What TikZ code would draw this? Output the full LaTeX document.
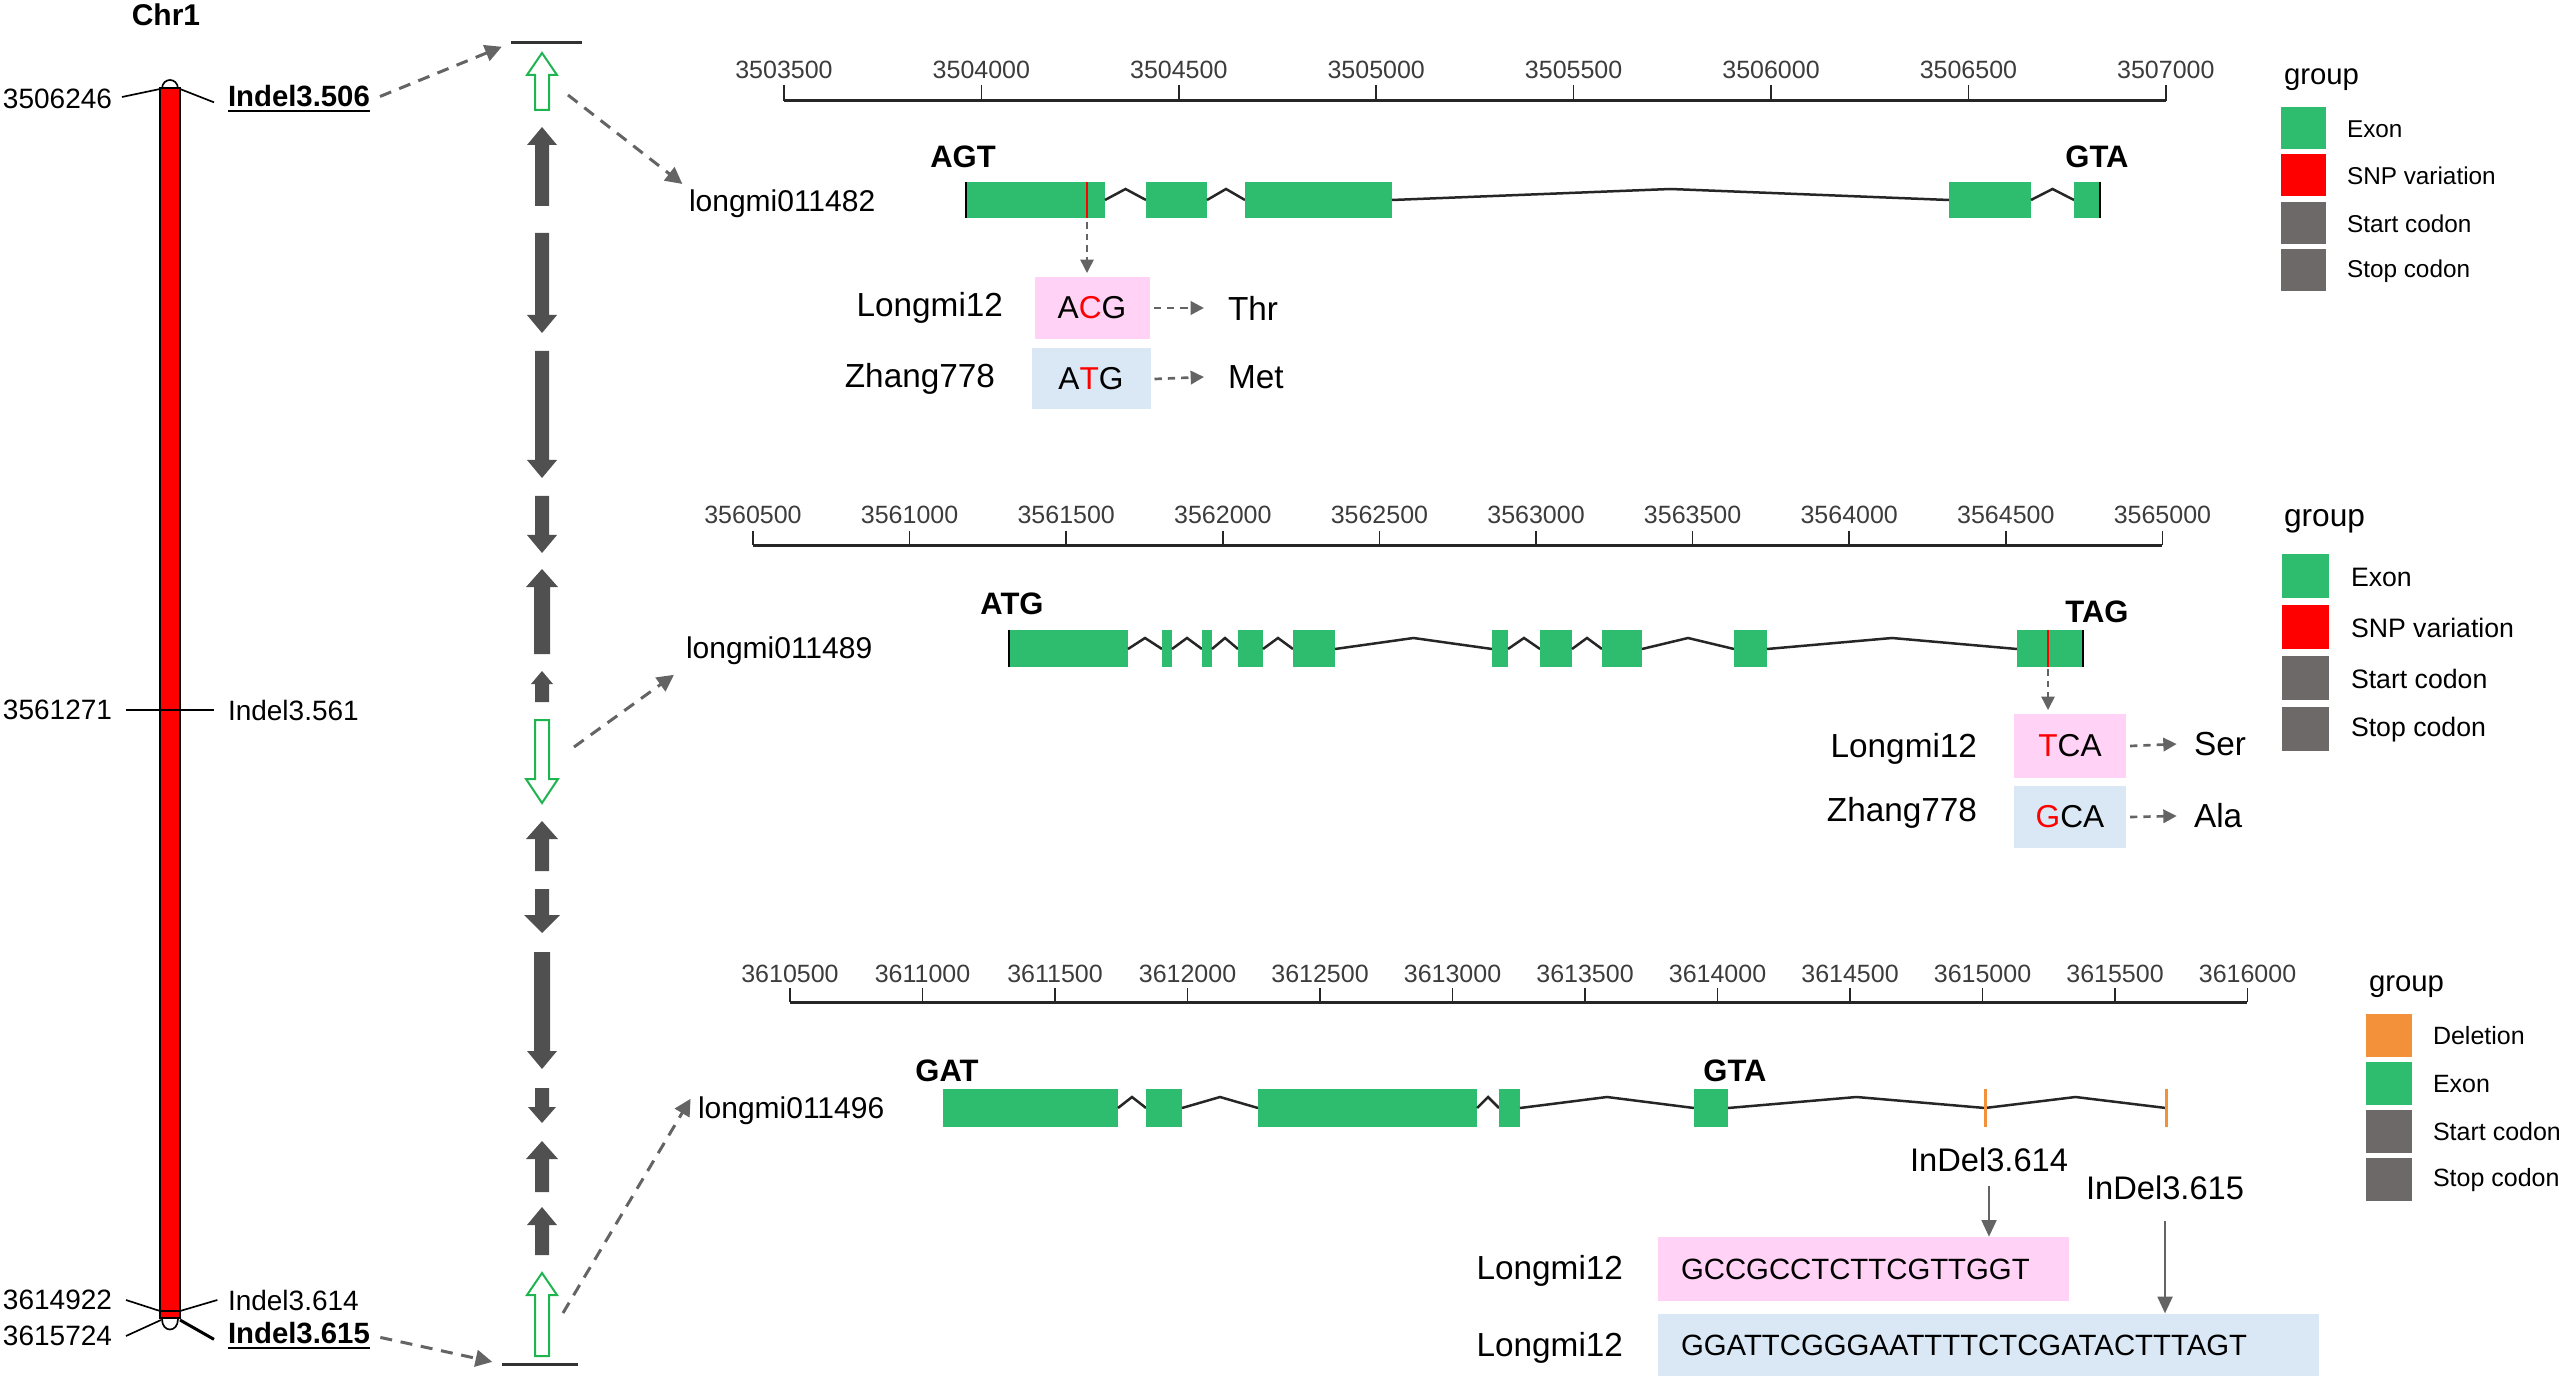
\documentclass[tikz,border=0pt]{standalone}
\usepackage{fontspec}
\setmainfont{Liberation Sans}
\usetikzlibrary{arrows.meta}
\definecolor{exonc}{RGB}{46,189,110}
\definecolor{snpc}{RGB}{255,0,0}
\definecolor{codonc}{RGB}{110,105,105}
\definecolor{delc}{RGB}{243,145,58}
\definecolor{pinkc}{RGB}{255,210,246}
\definecolor{bluec}{RGB}{218,232,245}
\definecolor{darkarr}{RGB}{80,80,80}
\definecolor{greenarr}{RGB}{30,180,80}
\definecolor{dashc}{RGB}{100,100,100}
\definecolor{axisc}{RGB}{60,60,60}
\newcommand\myfs[1]{\fontsize{#1pt}{#1pt}\selectfont}
\newcommand\myexon[2]{\fill[exonc] (#1,\gyA) rectangle (#2,\gyB);}
\newcommand\myintr[2]{\draw[intron] (#1,\gyC) -- ({(#1+#2)/2},{\gyC-11}) -- (#2,\gyC);}
\newcommand\myarrU[6]{\path[#1] ({542-#2},#6) -- ({542-#2},{#5+#4}) -- ({542-#3},{#5+#4}) -- (542,#5) -- ({542+#3},{#5+#4}) -- ({542+#2},{#5+#4}) -- ({542+#2},#6) -- cycle;}
\newcommand\myarrD[6]{\path[#1] ({542-#2},#6) -- ({542-#2},{#5-#4}) -- ({542-#3},{#5-#4}) -- (542,#5) -- ({542+#3},{#5-#4}) -- ({542+#2},{#5-#4}) -- ({542+#2},#6) -- cycle;}
\tikzset{
  every node/.style={inner sep=1pt},
  chrlab/.style={font=\myfs{8.4}},
  genename/.style={font=\myfs{9}, anchor=west},
  codonlab/.style={font=\myfs{9.3}\bfseries},
  strain/.style={font=\myfs{10}},
  codontxt/.style={font=\myfs{9.5}},
  axlab/.style={font=\myfs{7.5}, text=axisc},
  legtitle/.style={font=\myfs{8.8}, anchor=west},
  legtxt/.style={font=\myfs{7.3}, anchor=west},
  intron/.style={draw=black!85, line width=0.75pt},
  axisline/.style={draw=black!85, line width=0.9pt},
  ticks/.style={draw=black!85, line width=0.45pt},
  codonline/.style={draw=black, line width=0.6pt},
  snpline/.style={draw=snpc, line width=0.45pt},
  delline/.style={draw=delc, line width=0.9pt},
  dasharr/.style={draw=dashc, line width=0.9pt, dash pattern=on 3.6pt off 2.6pt, -{Triangle[length=5pt,width=5pt]}},
  snparr/.style={draw=dashc, line width=0.45pt, dash pattern=on 2pt off 1.5pt, -{Triangle[length=4pt,width=4pt]}},
  codarr/.style={draw=dashc, line width=0.8pt, dash pattern=on 2.2pt off 1.8pt, -{Triangle[length=4pt,width=4pt]}},
  solarr/.style={draw=dashc, line width=0.6pt, -{Triangle[length=5pt,width=4.5pt]}},
  darr/.style={fill=darkarr},
  garr/.style={draw=greenarr, fill=white, line width=0.6pt},
  endline/.style={draw=black!80, line width=0.9pt},
  seqbox/.style={font=\myfs{8.8}, align=left, inner xsep=6.9pt, minimum height=19pt}
}
\begin{document}
\begin{tikzpicture}[x=0.3pt,y=-0.3pt]
\useasboundingbox (0,0) rectangle (2559,1376);
% ---------- chromosome ----------
\node[font=\myfs{9}\bfseries] (chr) at (166,15) {Chr1};
\filldraw[fill=red, draw=black, line width=0.6pt] (160,88) rectangle (180,1318);
\draw[line width=0.5pt] (162,89) .. controls (162,77) and (178,77) .. (178,89);
\draw[line width=0.5pt] (162,1319) .. controls (162,1333) and (178,1333) .. (178,1319);
\draw[line width=0.8pt] (160,1311) -- (180,1311);
\node[chrlab, anchor=east] (p506) at (116,99) {3506246};
\node[chrlab, anchor=west, font=\myfs{8.8}\bfseries] (i506) at (224,99) {\underline{Indel3.506}};
\node[chrlab, anchor=east] (p561) at (116,710) {3561271};
\node[chrlab, anchor=west] (i561) at (224,710) {Indel3.561};
\node[chrlab, anchor=east] (p614) at (116,1300) {3614922};
\node[chrlab, anchor=west] (i614L) at (224,1300) {Indel3.614};
\node[chrlab, anchor=east] (p615) at (116,1336) {3615724};
\node[chrlab, anchor=west, font=\myfs{8.8}\bfseries] (i615L) at (224,1336) {\underline{Indel3.615}};
\coordinate (bt1) at (160,89); \coordinate (bt2) at (180,89);
\draw[line width=0.5pt] (p506.east) ++(6,-2) -- (bt1);
\draw[line width=0.5pt] (bt2) -- ([xshift=-3pt,yshift=-1pt]i506.west);
\draw[line width=0.5pt] ([xshift=3pt]p561.east) -- ([xshift=-3pt]i561.west);
\coordinate (bb1) at (160,1311); \coordinate (bb2) at (180,1311);
\coordinate (bc1) at (161,1320); \coordinate (bc2) at (180,1320);
\draw[line width=0.5pt] ([xshift=3pt]p614.east) -- (bb1);
\draw[line width=0.5pt] (bb2) -- ([xshift=-2pt]i614L.west);
\draw[line width=0.5pt] ([xshift=3pt]p615.east) -- (bc1);
\draw[line width=0.9pt] (bc2) -- ([xshift=-3pt,yshift=-1pt]i615L.west);
% ---------- middle arrow column ----------
\coordinate (tlL) at (511,43); \coordinate (tlR) at (582,43);
\coordinate (blL) at (502,1364); \coordinate (blR) at (578,1364);
\draw[endline] (tlL) -- (tlR);
\draw[endline] (blL) -- (blR);
\myarrU{garr}{7}{15}{22}{53}{110}
\myarrU{darr}{7}{15}{18}{127}{206}
\myarrD{darr}{7}{15}{18}{333}{233}
\myarrD{darr}{7}{15}{18}{478}{351}
\myarrD{darr}{7}{15}{18}{553}{496}
\myarrU{darr}{8}{16}{18}{569}{654}
\myarrU{darr}{7}{11}{13}{671}{702}
\myarrD{garr}{7}{16}{24}{803}{720}
\myarrU{darr}{7}{16}{18}{821}{871}
\myarrD{darr}{7}{18}{18}{933}{889}
\myarrD{darr}{8}{15}{18}{1069}{952}
\myarrD{darr}{7}{14}{16}{1123}{1088}
\myarrU{darr}{7}{16}{18}{1141}{1192}
\myarrU{darr}{7}{15}{18}{1207}{1255}
\myarrU{garr}{7}{15}{22}{1273}{1356}
\coordinate (g1c) at (568,95);
\coordinate (g8c) at (574,747);
\coordinate (g15c) at (563,1313);
% ---------- panel 1 ----------
\draw[axisline] (784,101) -- (2166,101);
\foreach \v [count=\i from 0] in {3503500,3504000,3504500,3505000,3505500,3506000,3506500,3507000}{
  \draw[ticks] ({784+\i*197.4},85) -- ({784+\i*197.4},101);
  \node[axlab] (ax1-\i) at ({784+\i*197.4},70) {\v};
}
\node[genename] (gn1) at (685,204) {longmi011482};
\def\gyA{182}\def\gyB{218}\def\gyC{200}
\myexon{966}{1105}\myintr{1105}{1146}\myexon{1146}{1207}\myintr{1207}{1245}\myexon{1245}{1392}
\myintr{1392}{1949}\myexon{1949}{2031}\myintr{2031}{2074}\myexon{2074}{2100}
\draw[codonline] (966,182) -- (966,218);
\draw[codonline] (2100,182) -- (2100,218);
\draw[snpline] (1087,182) -- (1087,218);
\coordinate (snp1) at (1087,222);
\node[codonlab] (agt1) at (963,157) {AGT};
\node[codonlab] (gta1) at (2097,157) {GTA};
\node[codontxt, fill=pinkc, minimum width=34.5pt, minimum height=18.6pt] (acg) at (1092,308) {A\textcolor{red}{C}G};
\node[codontxt, fill=bluec, minimum width=35.7pt, minimum height=18.3pt] (atg) at (1091,379) {A\textcolor{red}{T}G};
\node[strain, anchor=east] (lm1) at (1007,308) {Longmi12};
\node[strain, anchor=east] (zh1) at (999,379) {Zhang778};
\node[strain, anchor=west] (thr) at (1224,308) {Thr};
\node[strain, anchor=west] (met) at (1224,377) {Met};
\draw[snparr] (snp1) -- ([yshift=1pt]snp1 |- acg.north);
\draw[codarr] ([xshift=1pt]acg.east) -- ([xshift=-6pt]thr.west);
\draw[codarr] ([xshift=1pt]atg.east) -- ([xshift=-6pt]met.west);
% legend 1
\node[legtitle] (lg1) at (2280,80) {group};
\foreach \yt/\col/\txt [count=\k] in {107/exonc/Exon, 154/snpc/SNP variation, 202/codonc/Start codon, 249/codonc/Stop codon}{
  \fill[\col] (2281,\yt) rectangle (2326,\yt+42);
  \node[legtxt] (lg1-\k) at (2343,\yt+22) {\txt};
}
% ---------- panel 2 ----------
\draw[axisline] (753,545) -- (2162,545);
\foreach \v [count=\i from 0] in {3560500,3561000,3561500,3562000,3562500,3563000,3563500,3564000,3564500,3565000}{
  \draw[ticks] ({753+\i*156.6},531) -- ({753+\i*156.6},545);
  \node[axlab] (ax2-\i) at ({753+\i*156.6},515) {\v};
}
\node[genename] (gn2) at (682,651) {longmi011489};
\def\gyA{630}\def\gyB{667}\def\gyC{649}
\myexon{1009}{1128}\myintr{1128}{1162}\myexon{1162}{1172}\myintr{1172}{1202}\myexon{1202}{1212}
\myintr{1212}{1238}\myexon{1238}{1263}\myintr{1263}{1293}\myexon{1293}{1335}\myintr{1335}{1492}
\myexon{1492}{1508}\myintr{1508}{1540}\myexon{1540}{1572}\myintr{1572}{1602}\myexon{1602}{1642}
\myintr{1642}{1734}\myexon{1734}{1767}\myintr{1767}{2017}\myexon{2017}{2083}
\draw[codonline] (1009,630) -- (1009,667);
\draw[codonline] (2083,630) -- (2083,667);
\draw[snpline] (2048,630) -- (2048,667);
\coordinate (snp2) at (2048,669);
\node[codonlab] (atg2) at (1012,604) {ATG};
\node[codonlab] (tag2) at (2097,612) {TAG};
\node[codontxt, fill=pinkc, minimum width=33.6pt, minimum height=19.2pt] (tca) at (2070,746) {\textcolor{red}{T}CA};
\node[codontxt, fill=bluec, minimum width=33.6pt, minimum height=18.6pt] (gca) at (2070,817) {\textcolor{red}{G}CA};
\node[strain, anchor=east] (lm2) at (1981,749) {Longmi12};
\node[strain, anchor=east] (zh2) at (1981,813) {Zhang778};
\node[strain, anchor=west] (ser) at (2190,744) {Ser};
\node[strain, anchor=west] (ala) at (2190,816) {Ala};
\draw[snparr] (snp2) -- ([yshift=1pt]snp2 |- tca.north);
\draw[codarr] ([xshift=1pt]tca.east) -- ([xshift=-4pt]ser.west);
\draw[codarr] ([xshift=1pt]gca.east) -- ([xshift=-4pt]ala.west);
% legend 2
\node[legtitle, font=\myfs{9.5}] (lg2) at (2280,521) {group};
\foreach \yt/\col/\txt [count=\k] in {554/exonc/Exon, 605/snpc/SNP variation, 656/codonc/Start codon, 707/codonc/Stop codon}{
  \fill[\col] (2282,\yt) rectangle (2329,\yt+44);
  \node[legtxt, font=\myfs{8}] (lg2-\k) at (2347,\yt+23) {\txt};
}
% ---------- panel 3 ----------
\draw[axisline] (790,1002) -- (2247,1002);
\foreach \v [count=\i from 0] in {3610500,3611000,3611500,3612000,3612500,3613000,3613500,3614000,3614500,3615000,3615500,3616000}{
  \draw[ticks] ({790+\i*132.5},988) -- ({790+\i*132.5},1002);
  \node[axlab] (ax3-\i) at ({790+\i*132.5},974) {\v};
}
\node[genename] (gn3) at (694,1111) {longmi011496};
\def\gyA{1089}\def\gyB{1127}\def\gyC{1108}
\myexon{943}{1118}\myintr{1118}{1146}\myexon{1146}{1182}\myintr{1182}{1258}\myexon{1258}{1477}
\myintr{1477}{1499}\myexon{1499}{1520}\myintr{1520}{1694}\myexon{1694}{1728}
\myintr{1728}{1985}\myintr{1985}{2166}
\draw[delline] (1985,1089) -- (1985,1127);
\draw[delline] (2166,1089) -- (2166,1127);
\node[codonlab] (gat3) at (947,1071) {GAT};
\node[codonlab] (gta3) at (1735,1071) {GTA};
\node[font=\myfs{9.8}] (i614) at (1989,1160) {InDel3.614};
\node[font=\myfs{9.8}] (i615) at (2165,1188) {InDel3.615};
\node[seqbox, fill=pinkc, text width=109.5pt, minimum width=123.3pt] (seqA) at (1863.5,1269) {GCCGCCTCTTCGTTGGT};
\node[seqbox, fill=bluec, text width=184.5pt, minimum width=198.3pt, minimum height=18.6pt] (seqB) at (1988.5,1345) {GGATTCGGGAATTTTCTCGATACTTTAGT};
\node[strain, anchor=east] (lm3) at (1627,1271) {Longmi12};
\node[strain, anchor=east] (lm4) at (1627,1348) {Longmi12};
\draw[solarr] ([yshift=-3pt]i614.south) -- (i614.south |- seqA.north);
\draw[solarr] ([yshift=-5pt]i615.south) -- (i615.south |- seqB.north);
% legend 3
\node[legtitle] (lg3) at (2365,987) {group};
\foreach \yt/\col/\txt [count=\k] in {1014/delc/Deletion, 1062/exonc/Exon, 1110/codonc/Start codon, 1158/codonc/Stop codon}{
  \fill[\col] (2366,\yt) rectangle (2412,\yt+43);
  \node[legtxt, font=\myfs{7.5}] (lg3-\k) at (2429,\yt+22) {\txt};
}
% ---------- dashed connectors ----------
\draw[dasharr, shorten <=2pt, shorten >=3pt] (i506.east) -- (tlL);
\draw[dasharr, shorten >=1pt] (g1c) -- (gn1.north west);
\draw[dasharr, shorten >=3pt] (g8c) -- (gn2.south west);
\draw[dasharr, shorten >=2pt] (g15c) -- (gn3.north west);
\draw[dasharr, shorten <=2pt, shorten >=3pt] (i615L.east) -- (blL);
\end{tikzpicture}
\end{document}
